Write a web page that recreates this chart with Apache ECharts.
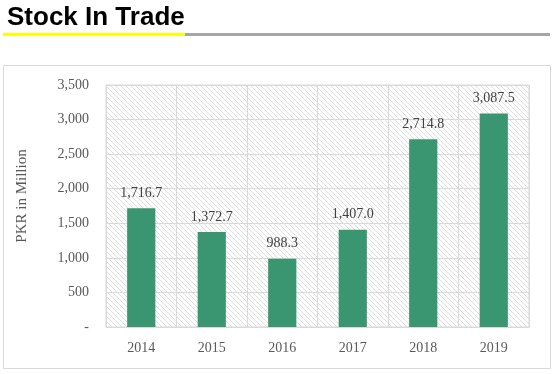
<!DOCTYPE html>
<html>
<head>
<meta charset="utf-8">
<script src="https://cdn.jsdelivr.net/npm/echarts@6/dist/echarts.min.js"></script>
<style>
html,body{margin:0;padding:0;background:#fff;}
#chart{width:555px;height:374px;}
</style>
</head>
<body>
<div id="chart"></div>
<script>
var categories = ['2014', '2015', '2016', '2017', '2018', '2019'];
var values = [1716.7, 1372.7, 988.3, 1407.0, 2714.8, 3087.5];
var yTicks = [0, 500, 1000, 1500, 2000, 2500, 3000, 3500];
var titleText = 'Stock In Trade';
var yAxisName = 'PKR in Million';

function fmt(v, d) {
  return v.toLocaleString('en-US', {minimumFractionDigits: d, maximumFractionDigits: d});
}

// hatch pattern
var tile = document.createElement('canvas');
tile.width = 5; tile.height = 5;
var ctx = tile.getContext('2d');
ctx.fillStyle = '#ffffff';
ctx.fillRect(0, 0, 5, 5);
ctx.strokeStyle = '#d6d6d6';
ctx.lineWidth = 0.8;
ctx.beginPath();
ctx.moveTo(-1, -1); ctx.lineTo(6, 6);
ctx.moveTo(-1, 4); ctx.lineTo(1, 6);
ctx.moveTo(4, -1); ctx.lineTo(6, 1);
ctx.stroke();

var chart = echarts.init(document.getElementById('chart'), null, {renderer: 'canvas'});
var serif = '"Liberation Serif", "DejaVu Serif", serif';
chart.setOption({
  animation: false,
  graphic: [
    {type: 'rect', shape: {x: 3.5, y: 65.5, width: 547, height: 303}, style: {fill: 'none', stroke: '#d9d9d9', lineWidth: 1}, z: -10},
    {type: 'text', left: 7, top: 5, style: {text: titleText, font: 'bold 26px "Liberation Sans", Arial, sans-serif', fill: '#000'}},
    {type: 'rect', shape: {x: 3, y: 33, width: 182, height: 3}, style: {fill: '#ffff00'}},
    {type: 'rect', shape: {x: 185, y: 33, width: 365, height: 3}, style: {fill: '#a6a6a6'}}
  ],
  grid: {
    left: 106, right: 26, top: 85, bottom: 47,
    show: true,
    backgroundColor: {image: tile, repeat: 'repeat'},
    borderColor: '#d9d9d9', borderWidth: 1
  },
  xAxis: {
    type: 'category',
    data: categories,
    axisLine: {show: true, lineStyle: {color: '#d9d9d9'}},
    axisTick: {show: false},
    splitLine: {show: true, lineStyle: {color: '#d9d9d9', width: 1}},
    axisLabel: {color: '#595959', fontFamily: serif, fontSize: 14, margin: 14}
  },
  yAxis: {
    type: 'value',
    min: 0, max: 3500, interval: 500,
    name: yAxisName,
    nameLocation: 'middle',
    nameGap: 76,
    nameRotate: 90,
    nameTextStyle: {color: '#595959', fontFamily: serif, fontSize: 15, padding: [0, 0, 0, 20]},
    axisLine: {show: false},
    axisTick: {show: false},
    splitLine: {show: true, lineStyle: {color: '#d9d9d9', width: 1}},
    axisLabel: {
      color: '#595959', fontFamily: serif, fontSize: 14, margin: 17,
      formatter: function (v) { return v === 0 ? '-' : fmt(v, 0); }
    }
  },
  series: [{
    type: 'bar',
    data: values,
    barWidth: '40%',
    itemStyle: {color: '#3a9670'},
    label: {
      show: true, position: 'top', distance: 8,
      color: '#404040', fontFamily: serif, fontSize: 14,
      formatter: function (p) { return fmt(p.value, 1); }
    }
  }]
});
</script>
</body>
</html>
